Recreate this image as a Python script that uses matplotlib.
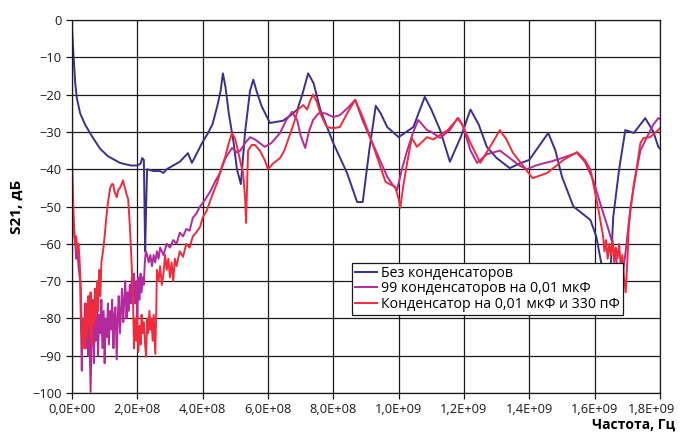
import numpy as np
import matplotlib
matplotlib.use('Agg')
import matplotlib.pyplot as plt
from matplotlib.ticker import FuncFormatter, FixedLocator, MultipleLocator

plt.rcParams['font.family'] = ['Open Sans', 'DejaVu Sans']

# Частота в единицах 1e8 Гц, S21 в дБ
f_blue = [0, 0.05, 0.1, 0.15, 0.25, 0.4, 0.6, 0.86, 1.1, 1.47, 1.8, 2.0, 2.1, 2.15, 2.2,
          2.24, 2.27, 2.3, 2.5, 2.7, 2.8, 2.9, 3.1, 3.3, 3.55, 3.67, 3.75, 3.98, 4.15, 4.3,
          4.45, 4.55, 4.62, 4.7, 4.8, 4.95, 5.05, 5.17, 5.3, 5.45, 5.55, 5.65, 5.8, 6.06,
          6.46, 6.7, 6.9, 7.05, 7.23, 7.4, 7.6, 8.0, 8.42, 8.73, 8.9, 9.1, 9.3, 9.45, 9.65,
          10.0, 10.45, 10.8, 11.0, 11.27, 11.57, 11.9, 12.2, 12.45, 12.7, 13.0, 13.4, 13.7,
          14.0, 14.2, 14.58, 14.8, 15.0, 15.35, 15.87, 16.05, 16.2, 16.35, 16.5, 16.57,
          16.75, 16.94, 17.2, 17.55, 17.8, 17.95, 18.0]
s_blue = [-2, -10, -17, -21, -25, -28, -31, -34.5, -36.5, -38.3, -39, -39, -38.5, -37, -37.5,
          -62, -50, -40, -40.5, -40.5, -41, -40, -39, -38, -35.7, -38.3, -37, -33, -30.5, -28,
          -23, -19, -14.3, -18, -25, -33, -40, -44, -30, -19, -16, -19, -23, -27.6,
          -27, -25.5, -24, -20, -14.3, -17, -24, -33, -41, -48.8, -48.8, -35, -23, -25, -28.7,
          -31.4, -28.7, -20.6, -24, -29.5, -38, -31.4, -24, -28, -34, -37, -39.7, -38.5,
          -37.5, -35, -30.3, -35, -42, -50, -53.6, -58, -65, -72, -65, -52.8,
          -40, -29.5, -30.3, -26.3, -30, -34, -34.5]

f_mag = [0, 0.03, 0.06, 0.1, 0.13, 0.17, 0.2, 0.25, 0.3, 0.33, 0.37, 0.4, 0.43, 0.47, 0.5,
         0.53, 0.57, 0.6, 0.63, 0.67, 0.7, 0.73, 0.77, 0.8, 0.83, 0.87, 0.9, 0.93, 0.97, 1.0,
         1.03, 1.07, 1.1, 1.13, 1.17, 1.2, 1.23, 1.27, 1.3, 1.33, 1.37, 1.4, 1.43, 1.47, 1.5,
         1.53, 1.57, 1.6, 1.63, 1.67, 1.7, 1.73, 1.77, 1.8, 1.83, 1.87, 1.9, 1.93, 1.97, 2.0,
         2.03, 2.07, 2.1, 2.13, 2.17, 2.2, 2.23, 2.26, 2.3, 2.35, 2.4, 2.45, 2.5, 2.55, 2.6,
         2.65, 2.7, 2.8, 2.9, 3.0, 3.1, 3.2, 3.3, 3.4, 3.5, 3.6, 3.7, 3.8, 3.92, 4.05, 4.23,
         4.4, 4.53, 4.7, 4.9, 5.05, 5.15, 5.3, 5.45, 5.6, 5.9, 6.1, 6.37, 6.55, 6.74, 6.9,
         7.0, 7.14, 7.25, 7.38, 7.55, 7.75, 8.0, 8.2, 8.45, 8.67, 8.9, 9.2, 9.45, 9.65, 9.8,
         9.95, 10.1, 10.26, 10.45, 10.6, 10.87, 11.0, 11.27, 11.57, 11.8, 11.95, 12.2, 12.4,
         12.7, 13.1, 13.4, 13.7, 13.93, 14.2, 14.4, 14.64, 15.0, 15.46, 15.7, 15.96, 16.2,
         16.4, 16.55, 16.7, 16.85, 16.95, 17.1, 17.25, 17.4, 17.6, 17.8, 17.95, 18.0]
s_mag = [-43, -52, -57, -60, -64, -62, -66, -70, -94, -80, -86, -76, -88, -79, -90,
         -82, -99.7, -84, -75, -92, -80, -86, -77, -90, -79, -84, -75, -88, -78, -92,
         -80, -85, -76, -87, -78, -83, -75, -88, -79, -77, -91, -80, -74, -84, -78,
         -72, -81, -75, -70, -80, -73, -78, -71, -76, -69, -74, -68, -76, -70, -80,
         -69, -75, -68, -73, -69, -71, -65, -62, -63, -65, -63, -66, -63, -65, -62,
         -64, -61, -63, -60, -61, -59, -60, -57, -58, -56, -56.5, -53, -52, -50, -48.5, -46,
         -43, -41, -37, -34.3, -35.5, -35, -33, -31.4, -32, -34, -33, -30.3, -27, -24.6, -27,
         -31, -34.3, -30, -26.8, -25, -25, -26, -25.5, -23.5, -21.4, -27, -33, -38, -42, -44,
         -45.6, -40, -35, -30, -26.8, -29.5, -30, -31.6, -29.5, -26.3, -28, -35, -38.3,
         -36, -35, -37, -39, -40, -39, -38.5, -38, -37, -35.6, -38, -43, -50,
         -55.5, -60, -66, -69, -62, -50, -42, -35, -31.4, -28, -26.3, -26.5]

f_red = [0, 0.03, 0.06, 0.1, 0.13, 0.17, 0.2, 0.23, 0.27, 0.3, 0.33, 0.37, 0.4, 0.43, 0.47,
         0.5, 0.53, 0.57, 0.6, 0.63, 0.67, 0.7, 0.73, 0.77, 0.8, 0.83, 0.87, 0.9, 0.95, 1.0,
         1.05, 1.1, 1.17, 1.22, 1.26, 1.3, 1.37, 1.42, 1.47, 1.52, 1.56, 1.62, 1.68, 1.72,
         1.77, 1.82, 1.87, 1.9, 1.93, 1.97, 2.0, 2.03, 2.07, 2.1, 2.13, 2.17, 2.2, 2.23,
         2.27, 2.3, 2.33, 2.37, 2.4, 2.43, 2.47, 2.5, 2.55, 2.58, 2.6, 2.65, 2.7, 2.75, 2.8,
         2.85, 2.9, 2.95, 3.0, 3.05, 3.1, 3.15, 3.2, 3.3, 3.4, 3.5, 3.6, 3.7, 3.8, 3.92, 4.0,
         4.13, 4.25, 4.44, 4.6, 4.69, 4.8, 4.9, 5.0, 5.08, 5.18, 5.24, 5.3, 5.33, 5.36, 5.39,
         5.5, 5.6, 5.75, 5.9, 6.0, 6.15, 6.37, 6.5, 6.62, 6.78, 6.92, 7.08, 7.2, 7.3, 7.38,
         7.5, 7.6, 7.8, 8.0, 8.2, 8.45, 8.67, 8.9, 9.13, 9.35, 9.6, 9.9, 10.0, 10.05, 10.15,
         10.26, 10.4, 10.56, 10.87, 11.06, 11.5, 11.83, 12.0, 12.2, 12.5, 12.8, 13.1, 13.3,
         13.5, 13.8, 14.1, 14.55, 15.05, 15.46, 15.7, 15.87, 16.1, 16.26, 16.3, 16.35, 16.4,
         16.45, 16.5, 16.55, 16.6, 16.65, 16.7, 16.75, 16.8, 16.85, 16.9, 16.95, 17.0, 17.05,
         17.1, 17.2, 17.3, 17.4, 17.5, 17.7, 17.95, 18.0]
s_red = [-37.5, -47, -55, -60, -58, -62, -60, -64, -72, -84, -88, -80, -88, -76, -85,
         -74, -82, -73, -87, -76, -82, -72, -80, -70, -78, -67, -74, -65, -62, -58,
         -53, -49, -45, -44, -44, -46, -47.5, -45.5, -45, -44, -43, -45, -47, -48,
         -55, -64, -76, -88, -80, -86, -80, -89, -82, -87, -79, -84, -81, -86,
         -90.3, -80, -84, -78, -83, -80, -86, -79, -89.5, -78, -67, -70, -66, -71, -68,
         -63, -67, -64, -69, -65, -70, -64, -66, -62, -63.5, -60, -61, -58, -57, -55.5, -53,
         -51, -48, -43.7, -39, -36.7, -33, -30.3, -32, -35, -39, -41, -48, -54.4, -45, -35,
         -33.5, -33.5, -35, -37.5, -40, -38.5, -37, -35, -32, -28, -24, -22.8, -24, -21.5, -20,
         -22, -25, -28.7, -29, -28.7, -24.6, -21.4, -26, -31.4, -37, -43.4, -44.8, -48, -50.4, -44,
         -38.3, -31.6, -34, -31.4, -32, -29.5, -26.3, -29, -33, -38.3, -34, -29.5, -32,
         -35.6, -39, -42.4, -41, -37.5, -35.4, -37.5, -40, -50, -58, -62, -59, -64,
         -60, -63, -59, -65, -61, -64, -60, -66, -63, -69, -73, -65, -55,
         -51, -44, -39, -33, -31.6, -31.4, -29.5, -29]

labels = ['Без конденсаторов', '99 конденсаторов на 0,01 мкФ',
          'Конденсатор на 0,01 мкФ и 330 пФ']
colors = ['#3b2f8f', '#b22a9c', '#ef2b3c']
x_ticks = [0, 2e8, 4e8, 6e8, 8e8, 1.0e9, 1.2e9, 1.4e9, 1.6e9, 1.8e9]


def fmt_x(v):
    return f'{v:.1E}'.replace('.', ',')


fig = plt.figure(figsize=(6.81, 4.41), dpi=100)
ax = fig.add_axes([0.1057, 0.1088, 0.8634, 0.8458])

for f, s, lab, c in zip([f_blue, f_mag, f_red], [s_blue, s_mag, s_red], labels, colors):
    ax.plot(np.array(f) * 1e8, s, color=c, lw=1.4, label=lab)

ax.set_xlim(0, 1.8e9)
ax.set_ylim(-100, 0)
ax.xaxis.set_major_locator(FixedLocator(x_ticks))
ax.yaxis.set_major_locator(MultipleLocator(10))
# последняя подпись рисуется отдельно, чуть левее, чтобы поместиться
ax.xaxis.set_major_formatter(FuncFormatter(lambda v, p: '' if v >= x_ticks[-1] else fmt_x(v)))
ax.annotate(fmt_x(x_ticks[-1]), xy=(x_ticks[-1], 0), xycoords=('data', 'axes fraction'),
            xytext=(-6, -7.5), textcoords='offset points', ha='center', va='top',
            fontsize=9.3, color='#1a1a1a')
ax.grid(True, color='#1a1a1a', lw=0.9)
ax.tick_params(direction='out', length=4, width=0.9, colors='#1a1a1a',
               labelsize=9.3, labelcolor='#1a1a1a')
for sp in ax.spines.values():
    sp.set_color('#1a1a1a')
    sp.set_linewidth(0.9)

ax.set_ylabel('S21, дБ', fontsize=11, fontweight='bold', labelpad=6)
fig.text(0.992, 0.022, 'Частота, Гц', fontsize=10, fontweight='bold', ha='right', va='bottom')

leg = ax.legend(loc='upper left', bbox_to_anchor=(0.477, 0.349), borderaxespad=0,
                fancybox=False, framealpha=1, edgecolor='#1a1a1a', fontsize=10.2,
                handlelength=1.5, handletextpad=0.35, borderpad=0.2, labelspacing=0.05)
leg.get_frame().set_linewidth(0.9)

plt.savefig('out.png', dpi=100)
